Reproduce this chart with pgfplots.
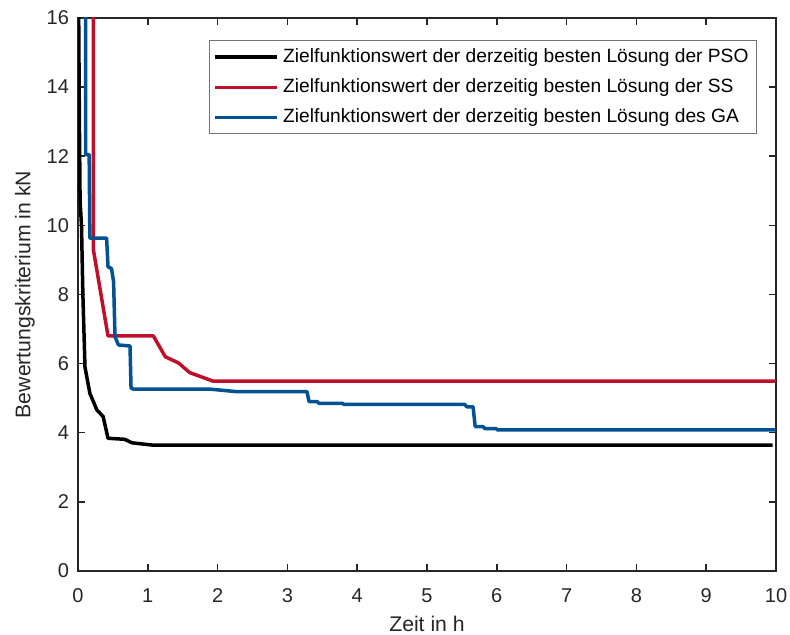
\documentclass[border=0pt]{standalone}
\usepackage{fontspec}
\setmainfont{Liberation Sans}
\usepackage{pgfplots}
\pgfplotsset{compat=1.18}
\usetikzlibrary{calc}
\definecolor{axgray}{HTML}{262626}
\definecolor{ssred}{HTML}{C00F2A}
\definecolor{gablue}{HTML}{005293}
\begin{document}
\begin{tikzpicture}
\begin{axis}[
  scale only axis,
  width=349pt, height=276.5pt,
  xmin=0, xmax=10, ymin=0, ymax=16,
  xtick={0,1,...,10}, ytick={0,2,...,16},
  tick align=inside,
  major tick length=3.5pt,
  axis line style={axgray, line width=0.75pt},
  every tick/.style={axgray, line width=0.75pt},
  tick label style={font=\fontsize{10}{12}\selectfont, text=axgray},
  xticklabel style={anchor=base, yshift=-15.6pt},
  yticklabel style={xshift=-1pt},
  /pgf/number format/assume math mode=true,
  xlabel={Zeit in h},
  ylabel={Bewertungskriterium in kN},
  label style={font=\fontsize{10.6}{13}\selectfont, text=axgray},
  xlabel style={at={(axis description cs:0.5,0)}, anchor=base, yshift=-30.3pt},
  ylabel style={at={(axis description cs:-0.076,0.5)}, anchor=center},
  legend style={at={(0.973,0.96)}, anchor=north east, draw=gray!90!black, line width=0.6pt,
    font=\fontsize{9.6}{11}\selectfont, text=black, row sep=2.6pt, inner sep=2pt},
  legend cell align=left,
  legend image code/.code={\draw[#1, line width=1.75pt] (0cm,0cm) -- (1.1cm,0cm);},
]
\addplot[black, line width=1.75pt, line join=round] coordinates {
(0,17) (0.01,16) (0.02,13) (0.03,10.7) (0.05,10) (0.07,8) (0.1,5.9) (0.17,5.14) (0.27,4.66) (0.36,4.47)
(0.43,3.84) (0.67,3.81) (0.77,3.71) (0.9,3.68) (1.08,3.64) (9.95,3.64)};
\addlegendentry{Zielfunktionswert der derzeitig besten Lösung der PSO}
\addplot[ssred, line width=1.75pt, line join=round] coordinates {
(0.22,17) (0.22,9.3) (0.43,6.8) (1.08,6.8) (1.25,6.2) (1.44,6.02) (1.6,5.74) (1.94,5.49) (10,5.49)};
\addlegendentry{Zielfunktionswert der derzeitig besten Lösung der SS}
\addplot[gablue, line width=1.75pt, line join=round] coordinates {
(0.11,17) (0.11,12.05) (0.16,12.05) (0.17,9.63) (0.41,9.63) (0.43,8.8) (0.48,8.75) (0.51,8.37)
(0.53,6.78) (0.58,6.54) (0.745,6.51) (0.76,5.29) (0.8,5.26) (1.9,5.26) (2.27,5.19) (3.28,5.19)
(3.31,4.9) (3.43,4.9) (3.45,4.85) (3.79,4.85) (3.81,4.82) (5.54,4.82) (5.57,4.75) (5.66,4.75)
(5.69,4.18) (5.8,4.18) (5.83,4.12) (5.99,4.12) (6.01,4.08) (10,4.08)};
\addlegendentry{Zielfunktionswert der derzeitig besten Lösung des GA}
\end{axis}
\pgfresetboundingbox
\path[use as bounding box] ($(current axis.south west)+(-39pt,-32pt)$) rectangle ($(current axis.north east)+(7pt,9pt)$);
\end{tikzpicture}
\end{document}
